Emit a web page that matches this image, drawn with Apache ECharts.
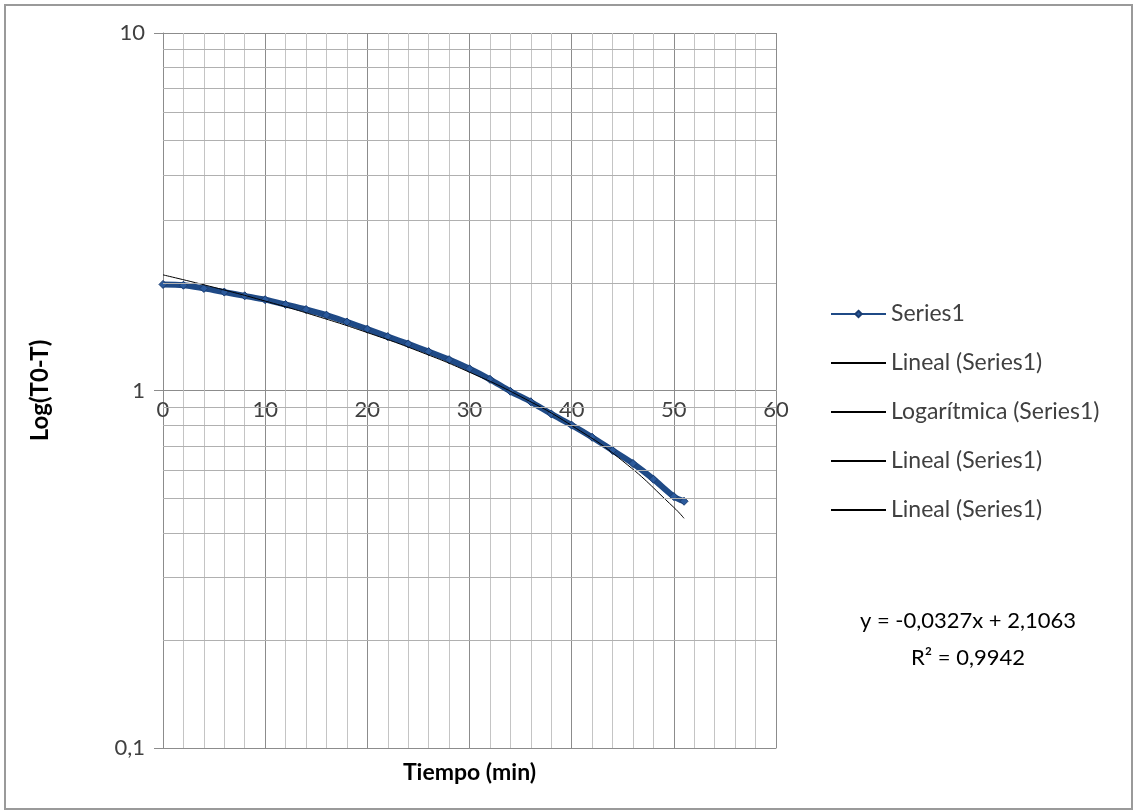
<!DOCTYPE html>
<html>
<head>
<meta charset="utf-8">
<script src="https://cdn.jsdelivr.net/npm/echarts@6/dist/echarts.min.js"></script>
<style>
  html, body { margin: 0; padding: 0; background: #fff; }
  #chart { width: 1135px; height: 812px; }
</style>
</head>
<body>
<div id="chart"></div>
<script>
// tiempo (min) y valores de Series1
var tiempo = [0, 2, 4, 6, 8, 10, 12, 14, 16, 18, 20, 22, 24, 26, 28, 30, 32, 34, 36, 38, 40, 42, 44, 46, 48, 50, 51];
var series1 = [1.98, 1.97, 1.93, 1.885, 1.84, 1.795, 1.74, 1.685, 1.625, 1.555, 1.485, 1.415, 1.35, 1.285, 1.22, 1.15,
               1.075, 0.995, 0.93, 0.86, 0.80, 0.74, 0.68, 0.625, 0.565, 0.505, 0.49];

// linea de tendencia lineal (y = -0,0327x + 2,1063)
var tendTiempo = [0, 5, 10, 15, 20, 25, 30, 35, 40, 45, 50, 51];
var tendValores = [2.106, 1.943, 1.779, 1.616, 1.452, 1.289, 1.125, 0.962, 0.798, 0.635, 0.471, 0.439];

// lineas secundarias del eje logaritmico
var minorLog = [0.2, 0.3, 0.4, 0.5, 0.6, 0.7, 0.8, 0.9, 2, 3, 4, 5, 6, 7, 8, 9];

var legendNames = ['Series1', 'Lineal (Series1)', 'Logarítmica (Series1)', 'Lineal (Series1)\u200b', 'Lineal (Series1)\u200b\u200b'];
var ecuacion = ['y = -0,0327x + 2,1063', 'R² = 0,9942'];

function pares(xs, ys) {
    var out = [];
    for (var i = 0; i < xs.length; i++) out.push([xs[i], ys[i]]);
    return out;
}

// serie vacia solo para la leyenda (lineas de tendencia superpuestas)
function tendenciaVacia(nombre) {
    return {
        name: nombre,
        type: 'line',
        data: [],
        symbol: 'none',
        lineStyle: { color: '#000', width: 1 },
        itemStyle: { color: '#000' }
    };
}

var chart = echarts.init(document.getElementById('chart'));
var gris = '#8c8c8c';
var fuente = 'Lato';

var option = {
    animation: false,
    textStyle: { fontFamily: fuente },
    grid: { left: 163, top: 33, width: 613, height: 715, containLabel: false },
    legend: {
        orient: 'vertical',
        left: 825,
        top: 297,
        itemWidth: 55,
        itemHeight: 8,
        itemGap: 25,
        data: legendNames.map(function (n, i) {
            return i === 0 ? { name: n } : { name: n, itemStyle: { opacity: 0 } };
        }),
        textStyle: { fontFamily: fuente, fontSize: 23, color: '#404040', lineHeight: 24 },
        formatter: function (n) { return n.replace(/\u200b/g, ''); }
    },
    xAxis: [{
        type: 'value',
        min: 0, max: 60, interval: 10,
        position: 'bottom',
        name: 'Tiempo (min)',
        nameLocation: 'middle',
        nameGap: 13,
        nameTextStyle: { fontFamily: fuente, fontSize: 23, fontWeight: 'bold', color: '#000', verticalAlign: 'top' },
        axisLine: { show: true, onZero: false, lineStyle: { color: gris, width: 1 } },
        axisTick: { show: false },
        axisLabel: { show: false },
        splitLine: { show: true, lineStyle: { color: gris, width: 1 } },
        minorTick: { show: false, splitNumber: 5 },
        minorSplitLine: { show: true, lineStyle: { color: '#c4c4c4', width: 1 } }
    }, {
        type: 'value',
        min: 0, max: 60, interval: 10,
        position: 'bottom',
        offset: -357,
        axisLine: { show: false, onZero: false },
        axisTick: { show: false },
        splitLine: { show: false },
        axisLabel: { show: true, margin: 8, fontFamily: fuente, fontSize: 22, color: '#404040' }
    }],
    yAxis: {
        type: 'log',
        logBase: 10,
        min: 0.1, max: 10,
        name: 'Log(T0-T)',
        nameLocation: 'middle',
        nameGap: 111,
        nameTextStyle: { fontFamily: fuente, fontSize: 24, fontWeight: 'bold', color: '#000' },
        axisLine: { show: true, lineStyle: { color: gris, width: 1 } },
        axisTick: { show: true, inside: false, length: 9, lineStyle: { color: gris } },
        axisLabel: {
            margin: 18, fontFamily: fuente, fontSize: 22, color: '#404040',
            formatter: function (v) { return String(v).replace('.', ','); }
        },
        splitLine: { show: true, lineStyle: { color: gris, width: 1 } }
    },
    graphic: [{
        type: 'rect',
        shape: { x: 5, y: 5, width: 1127, height: 804 },
        style: { fill: null, stroke: '#9a9a9a', lineWidth: 2 },
        silent: true, z: -1
    }, {
        type: 'text',
        x: 968, y: 621,
        style: { text: ecuacion[0], fontFamily: fuente, fontSize: 22, fill: '#000', align: 'center', verticalAlign: 'middle' }
    }, {
        type: 'text',
        x: 968, y: 658,
        style: { text: ecuacion[1], fontFamily: fuente, fontSize: 22, fill: '#000', align: 'center', verticalAlign: 'middle' }
    }],
    series: [{
        name: 'grid-minor',
        type: 'line',
        data: [],
        silent: true,
        z: 1,
        markLine: {
            silent: true,
            symbol: 'none',
            label: { show: false },
            lineStyle: { color: '#b0b0b0', width: 1, type: 'solid' },
            data: minorLog.map(function (v) { return { yAxis: v }; })
        }
    }, {
        name: legendNames[0],
        type: 'line',
        data: pares(tiempo, series1),
        z: 3,
        smooth: 0.3,
        lineStyle: { color: '#1f4a86', width: 6 },
        itemStyle: { color: '#2b5a9c', borderColor: '#1a3c70', borderWidth: 1 },
        symbol: 'diamond',
        symbolSize: 8,
        showSymbol: true
    }, {
        name: legendNames[1],
        type: 'line',
        data: pares(tendTiempo, tendValores),
        z: 4,
        smooth: true,
        symbol: 'none',
        lineStyle: { color: '#000', width: 1 },
        itemStyle: { color: '#000' }
    },
    tendenciaVacia(legendNames[2]),
    tendenciaVacia(legendNames[3]),
    tendenciaVacia(legendNames[4])]
};
chart.setOption(option);
</script>
</body>
</html>
